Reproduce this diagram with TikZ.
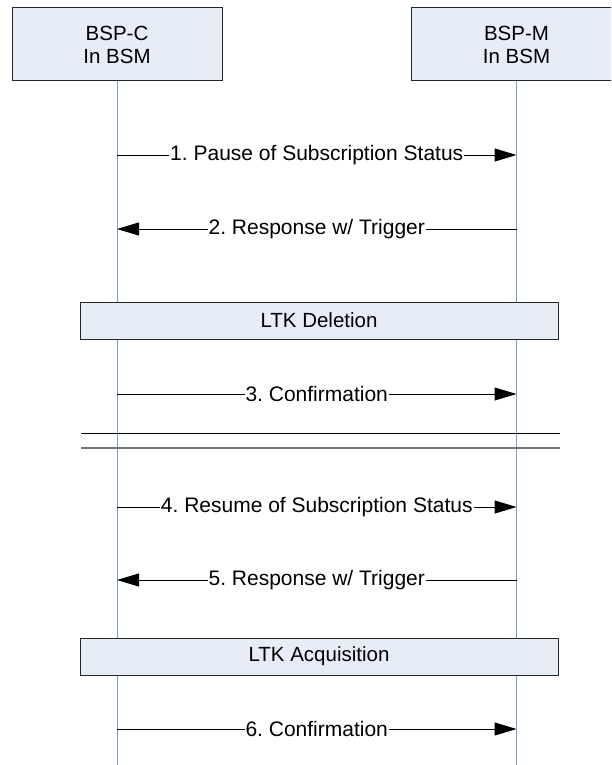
\documentclass[tikz,border=0pt]{standalone}
\usepackage{fontspec}
\setmainfont{Liberation Sans}
\usepackage{xcolor}
\usetikzlibrary{arrows.meta,positioning}
\definecolor{boxfill}{HTML}{E6EDF7}
\definecolor{lifeblue}{HTML}{7B9BD6}
\frenchspacing

\begin{document}
\begin{tikzpicture}[x=1pt, y=-1pt,
  party/.style={draw=black!85, fill=boxfill, line width=1pt, minimum width=210pt,
    minimum height=73pt, align=center, font=\fontsize{20.5}{23}\selectfont},
  action/.style={draw=black!85, fill=boxfill, line width=1pt, minimum width=478pt,
    minimum height=37pt, font=\fontsize{20.5}{23}\selectfont},
  life/.style={draw=lifeblue, line width=1pt},
  msg/.style={-{Triangle[length=22pt, width=13pt]}, line width=1pt, black},
  lbl/.style={fill=white, inner sep=1pt, font=\fontsize{21}{23}\selectfont},
  sep/.style={line width=1pt},
]
  \useasboundingbox (0,0) rectangle (611,765);
  \clip (0,0) rectangle (611,765);

  % parties
  \node[party] (bspc) at (117,44.5) {BSP-C\\In BSM};
  \node[party] (bspm) at (516.5,44.5) {BSP-M\\In BSM};

  % lifelines
  \coordinate (cend) at (117,765);
  \coordinate (mend) at (516.5,765);
  \draw[life] (bspc.south) -- (cend);
  \draw[life] (bspm.south) -- (mend);

  % message anchors
  \coordinate (c1) at (117,155);  \coordinate (m1) at (516.5,155);
  \coordinate (c2) at (117,229);  \coordinate (m2) at (516.5,229);
  \coordinate (c3) at (117,394);  \coordinate (m3) at (516.5,394);
  \coordinate (c4) at (117,507);  \coordinate (m4) at (516.5,507);
  \coordinate (c5) at (117,580);  \coordinate (m5) at (516.5,580);
  \coordinate (c6) at (117,729);  \coordinate (m6) at (516.5,729);

  % actions
  \node[action] (del) at (319,320.5) {LTK Deletion};
  \node[action] (acq) at (319,656.5) {LTK Acquisition};

  % messages
  \draw[msg] (c1) -- node[lbl] {1. Pause of Subscription Status} (m1);
  \draw[msg] (m2) -- node[lbl] {2. Response w/ Trigger} (c2);
  \draw[msg] (c3) -- node[lbl] {3. Confirmation} (m3);
  \draw[msg] (c4) -- node[lbl] {4. Resume of Subscription Status} (m4);
  \draw[msg] (m5) -- node[lbl] {5. Response w/ Trigger} (c5);
  \draw[msg] (c6) -- node[lbl] {6. Confirmation} (m6);

  % break between the two phases
  \coordinate (s1a) at (81,433);  \coordinate (s1b) at (560,433);
  \coordinate (s2a) at (81,448);  \coordinate (s2b) at (560,448);
  \draw[sep, black] (s1a) -- (s1b);
  \draw[sep, black!55, line width=1.4pt] (s2a) -- (s2b);
\end{tikzpicture}
\end{document}
